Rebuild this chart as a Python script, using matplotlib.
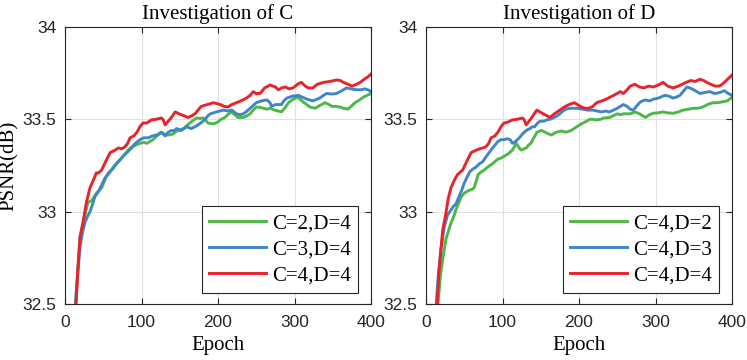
import numpy as np
import matplotlib
matplotlib.use("Agg")
import matplotlib.pyplot as plt

# ---- data (epoch, PSNR) ----
lr_ep = [12, 14.4, 17, 19.6, 24, 28, 32.7, 37, 41, 44, 48, 53, 59, 64, 70, 74, 78, 82, 85, 90, 94, 98, 102, 107,
         113, 119, 126, 128, 131, 135, 139, 144, 149, 155, 161, 166, 170, 174, 178, 186, 194, 203, 208, 213, 218,
         224, 230, 237, 242, 246, 250, 255, 261, 268, 275, 279, 283, 288, 293, 298, 304, 309, 314, 318, 324, 330,
         338, 346, 355, 360, 364, 370, 375, 381, 386, 392, 396, 400]
lr_val = [32.30, 32.50, 32.70, 32.86, 32.955, 33.05, 33.13, 33.17, 33.21, 33.21, 33.226, 33.27, 33.32, 33.33,
          33.345, 33.34, 33.35, 33.37, 33.40, 33.41, 33.43, 33.46, 33.48, 33.48, 33.497, 33.50, 33.507, 33.50,
          33.47, 33.49, 33.51, 33.54, 33.53, 33.52, 33.51, 33.52, 33.53, 33.55, 33.57, 33.58, 33.59, 33.58,
          33.57, 33.567, 33.58, 33.59, 33.60, 33.615, 33.63, 33.65, 33.64, 33.64, 33.67, 33.686, 33.675, 33.66,
          33.67, 33.675, 33.665, 33.67, 33.69, 33.70, 33.68, 33.67, 33.67, 33.69, 33.70, 33.705, 33.713, 33.71,
          33.70, 33.69, 33.68, 33.69, 33.70, 33.72, 33.73, 33.745]

lb_ep = [11, 12, 15, 19.6, 23, 26, 29, 32.7, 36, 39, 44, 48, 52, 57, 62, 67.5, 72, 76, 81, 87, 92, 98, 103, 109,
         114, 120, 126, 131, 135, 139, 142, 146, 152, 159, 165, 170, 174, 179, 183, 187, 190, 198, 207, 213, 218,
         224, 229, 233, 238, 242, 246, 250, 257, 264, 268, 270, 275, 280, 283, 286, 290, 297, 305, 310, 316, 324,
         333, 338, 342, 349, 355, 362, 368, 374, 381, 387, 392, 396, 400]
lb_val = [32.30, 32.38, 32.58, 32.81, 32.89, 32.94, 32.97, 33.00, 33.04, 33.08, 33.11, 33.145, 33.18, 33.21,
          33.23, 33.26, 33.28, 33.30, 33.32, 33.345, 33.37, 33.39, 33.40, 33.40, 33.41, 33.415, 33.43, 33.41,
          33.43, 33.44, 33.437, 33.45, 33.44, 33.46, 33.45, 33.46, 33.47, 33.485, 33.50, 33.52, 33.53, 33.54,
          33.55, 33.545, 33.55, 33.53, 33.525, 33.53, 33.545, 33.56, 33.575, 33.59, 33.60, 33.605, 33.59, 33.57,
          33.58, 33.58, 33.58, 33.60, 33.615, 33.625, 33.63, 33.62, 33.61, 33.60, 33.615, 33.63, 33.64, 33.637,
          33.64, 33.655, 33.67, 33.665, 33.66, 33.66, 33.665, 33.66, 33.65]

lg_ep = [12, 15, 19.6, 24, 27, 30, 35, 38, 41, 48, 54, 58, 63, 69, 76, 82, 87, 92, 98, 103, 107, 111, 115, 120,
         126, 130, 135, 141, 146, 150, 155, 159, 163, 168, 172, 177, 181, 184, 187, 194, 200, 204, 209, 214, 218,
         222, 226, 233, 238, 242, 246, 250, 255, 259, 264, 268, 274, 279, 283, 288, 292, 297, 303, 307, 311, 316,
         320, 327, 333, 340, 345, 349, 354, 359, 364, 370, 374, 379, 385, 390, 395, 400]
lg_val = [32.36, 32.58, 32.86, 32.94, 33.00, 33.05, 33.06, 33.08, 33.10, 33.13, 33.19, 33.21, 33.24, 33.27,
          33.30, 33.33, 33.35, 33.36, 33.37, 33.375, 33.37, 33.38, 33.39, 33.41, 33.43, 33.42, 33.415, 33.42,
          33.437, 33.44, 33.45, 33.465, 33.48, 33.495, 33.507, 33.505, 33.507, 33.495, 33.48, 33.475, 33.486,
          33.50, 33.51, 33.53, 33.54, 33.525, 33.51, 33.51, 33.52, 33.53, 33.55, 33.567, 33.565, 33.56, 33.555,
          33.56, 33.55, 33.545, 33.54, 33.565, 33.59, 33.605, 33.62, 33.61, 33.595, 33.58, 33.567, 33.56, 33.575,
          33.59, 33.58, 33.57, 33.57, 33.567, 33.56, 33.555, 33.57, 33.59, 33.605, 33.62, 33.63, 33.64]

rr_ep = [12, 17, 21.8, 26, 29, 32.7, 37, 41, 48, 53, 59, 64, 70, 74, 78, 82, 85, 90, 94, 98, 102, 107, 113, 119,
         126, 128, 131, 136, 140, 144.7, 149, 153, 158, 162, 168, 175, 181, 187, 194, 203, 208, 213, 218, 223, 230,
         236, 243, 250, 254, 258, 263, 267, 273, 279, 285, 291, 297, 303, 310, 316, 323, 330, 335, 340, 346, 352,
         358, 363, 367, 372, 378, 383, 386, 390, 395, 400]
rr_val = [32.30, 32.68, 32.90, 32.99, 33.07, 33.13, 33.17, 33.20, 33.226, 33.27, 33.32, 33.33, 33.34, 33.345,
          33.35, 33.37, 33.40, 33.41, 33.43, 33.46, 33.48, 33.485, 33.497, 33.50, 33.507, 33.50, 33.47, 33.497,
          33.52, 33.55, 33.54, 33.53, 33.52, 33.51, 33.53, 33.55, 33.567, 33.58, 33.59, 33.567, 33.56, 33.56,
          33.57, 33.59, 33.60, 33.61, 33.625, 33.64, 33.65, 33.64, 33.66, 33.68, 33.69, 33.675, 33.67, 33.68,
          33.675, 33.685, 33.70, 33.68, 33.67, 33.68, 33.69, 33.70, 33.71, 33.705, 33.717, 33.71, 33.70, 33.69,
          33.68, 33.68, 33.686, 33.70, 33.72, 33.74]

rb_ep = [11, 13, 16, 19.6, 24, 28, 32.7, 36, 39, 43, 47, 50, 54, 57, 61, 65, 70, 74, 79, 85, 90, 94, 98, 102, 106,
         110, 113, 117, 122, 126, 131, 136, 139, 142, 146, 149, 154, 158, 162, 166, 170, 175, 179, 183, 188, 192,
         198, 205, 211, 218, 224, 229, 235, 240, 245, 250, 254, 258, 263, 267, 271, 275, 279, 283, 287, 292, 298,
         304, 309, 313, 318, 323, 327, 332, 336, 341, 345, 350, 354, 358, 364, 371, 377, 384, 390, 395, 400]
rb_val = [32.30, 32.48, 32.65, 32.80, 32.92, 32.98, 33.01, 33.03, 33.04, 33.08, 33.12, 33.155, 33.19, 33.215,
          33.23, 33.24, 33.26, 33.27, 33.30, 33.334, 33.36, 33.38, 33.39, 33.39, 33.395, 33.39, 33.37, 33.38,
          33.40, 33.42, 33.44, 33.45, 33.46, 33.46, 33.48, 33.49, 33.49, 33.497, 33.50, 33.507, 33.515, 33.53,
          33.545, 33.555, 33.56, 33.56, 33.56, 33.555, 33.55, 33.55, 33.545, 33.54, 33.545, 33.54, 33.55, 33.56,
          33.57, 33.58, 33.57, 33.555, 33.55, 33.57, 33.59, 33.60, 33.605, 33.60, 33.61, 33.615, 33.625, 33.63,
          33.625, 33.615, 33.62, 33.63, 33.65, 33.675, 33.67, 33.66, 33.65, 33.64, 33.645, 33.65, 33.64, 33.645,
          33.655, 33.64, 33.63]

rg_ep = [13, 16, 19, 21.8, 26, 29, 32.7, 36, 39, 43, 46, 50, 54, 57, 60, 63, 66, 68, 72, 76, 80, 87, 94, 98, 102,
         108, 113, 116, 118, 121, 124, 128, 131, 134, 137, 139, 141, 145, 151, 158, 164, 170, 177, 183, 190, 197,
         205, 210, 214, 218, 223, 228, 232, 240, 245, 250, 254, 258, 263, 267, 273, 279, 283, 287, 292, 297, 303,
         310, 316, 323, 330, 336, 343, 350, 356, 362, 368, 375, 381, 388, 394, 400]
rg_val = [32.30, 32.52, 32.66, 32.74, 32.85, 32.89, 32.94, 32.97, 33.01, 33.05, 33.08, 33.10, 33.11, 33.117,
          33.12, 33.13, 33.17, 33.20, 33.215, 33.225, 33.24, 33.26, 33.285, 33.29, 33.30, 33.315, 33.334, 33.355,
          33.37, 33.35, 33.334, 33.34, 33.345, 33.36, 33.37, 33.385, 33.40, 33.43, 33.44, 33.425, 33.415, 33.43,
          33.437, 33.43, 33.44, 33.46, 33.48, 33.49, 33.50, 33.50, 33.497, 33.50, 33.507, 33.51, 33.52, 33.53,
          33.525, 33.53, 33.53, 33.53, 33.54, 33.53, 33.52, 33.51, 33.525, 33.533, 33.535, 33.54, 33.535, 33.533,
          33.54, 33.55, 33.555, 33.56, 33.56, 33.567, 33.58, 33.59, 33.59, 33.595, 33.60, 33.62]

titles = ["Investigation of C", "Investigation of D"]
labels_c = ["C=2,D=4", "C=3,D=4", "C=4,D=4"]
labels_d = ["C=4,D=2", "C=4,D=3", "C=4,D=4"]
xticks = [0, 100, 200, 300, 400]
yticks = [32.5, 33, 33.5, 34]
ytick_labels = ["32.5", "33", "33.5", "34"]

colors = ["#4db848", "#3f86c6", "#e8232a"]
serif = "Liberation Serif"
sans = "Liberation Sans"

fig = plt.figure(figsize=(7.47, 3.6), dpi=100)
W, H = 747.0, 360.0
ax1 = fig.add_axes([65 / W, 56 / H, 306 / W, 277 / H])
ax2 = fig.add_axes([426 / W, 56 / H, 306 / W, 277 / H])

panels = [
    (ax1, titles[0], [(lg_ep, lg_val), (lb_ep, lb_val), (lr_ep, lr_val)], labels_c),
    (ax2, titles[1], [(rg_ep, rg_val), (rb_ep, rb_val), (rr_ep, rr_val)], labels_d),
]

for ax, title, series, labels in panels:
    for (ep, val), c, lab in zip(series, colors, labels):
        ax.plot(ep, val, color=c, lw=2.1, label=lab, solid_joinstyle="round")
    ax.set_xlim(0, 400)
    ax.set_ylim(32.5, 34)
    ax.set_xticks(xticks)
    ax.set_yticks(yticks)
    ax.set_yticklabels(ytick_labels)
    ax.grid(True, color="#e0e0e0", lw=0.8)
    ax.set_axisbelow(True)
    ax.tick_params(direction="in", top=True, right=True, length=4, width=0.8,
                   color="#262626", labelsize=12.5, labelcolor="#262626")
    ax.tick_params(axis="x", pad=8)
    ax.tick_params(axis="y", pad=6)
    for t in ax.get_xticklabels() + ax.get_yticklabels():
        t.set_fontfamily(sans)
    for s in ax.spines.values():
        s.set_color("#262626")
        s.set_linewidth(0.8)
    ax.set_title(title, fontfamily=serif, fontsize=15, pad=6)
    ax.set_xlabel("Epoch", fontfamily=serif, fontsize=15, labelpad=4)
    leg = ax.legend(loc="lower right", bbox_to_anchor=(0.9575, 0.04), borderaxespad=0,
                    prop={"family": serif, "size": 15}, handlelength=2.7, handletextpad=0.3,
                    labelspacing=0.32, borderpad=0.35, fancybox=False, framealpha=1,
                    edgecolor="#262626")
    leg.get_frame().set_linewidth(0.8)

ax1.set_ylabel("PSNR(dB)", fontfamily=serif, fontsize=15)
ax1.yaxis.set_label_coords(-0.15, 0.5)

fig.savefig("out.png", dpi=100)
